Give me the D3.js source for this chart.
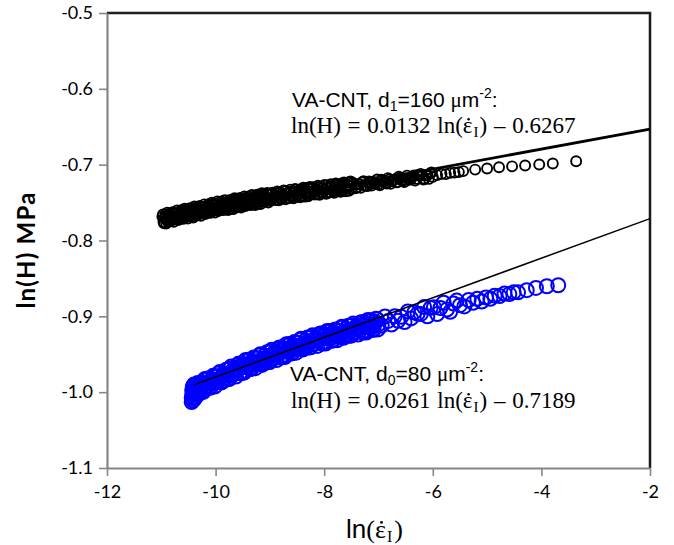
<!DOCTYPE html>
<html><head><meta charset="utf-8">
<script src="https://cdn.jsdelivr.net/npm/d3@7"></script>
<style>body{margin:0;background:#fff}svg{display:block}</style>
</head><body>
<svg id="c" width="674" height="545"></svg>
<script>
// ---- data ----
const xTicks = [-12, -10, -8, -6, -4, -2];
const yTicks = [-1.1, -1.0, -0.9, -0.8, -0.7, -0.6, -0.5];
const xTickLabels = ["-12", "-10", "-8", "-6", "-4", "-2"];
const yTickLabels = ["-1.1", "-1.0", "-0.9", "-0.8", "-0.7", "-0.6", "-0.5"];

// VA-CNT d1 = 160 um^-2 (black circles): ln(strain rate), ln(H)
const d1X = [
  -10.98,-10.96,-10.94,-10.92,-10.90,-10.88,-10.86,-10.84,-10.82,-10.80,-10.78,-10.76,-10.74,-10.72,-10.70,-10.68,-10.66,-10.64,-10.62,-10.60,
  -10.58,-10.56,-10.54,-10.52,-10.50,-10.48,-10.46,-10.44,-10.42,-10.40,-10.38,-10.36,-10.34,-10.32,-10.30,-10.28,-10.26,-10.24,-10.22,-10.20,
  -10.18,-10.16,-10.14,-10.12,-10.10,-10.08,-10.06,-10.04,-10.02,-10.00,
  -9.98,-9.96,-9.94,-9.92,-9.90,-9.88,-9.86,-9.84,-9.82,-9.80,-9.78,-9.76,-9.74,-9.72,-9.70,-9.68,-9.66,-9.64,-9.62,-9.60,
  -9.58,-9.56,-9.54,-9.52,-9.50,-9.48,-9.46,-9.44,-9.42,-9.40,-9.38,-9.36,-9.34,-9.32,-9.30,-9.28,-9.26,-9.24,-9.22,-9.20,
  -9.18,-9.16,-9.14,-9.12,-9.10,-9.08,-9.06,-9.04,-9.02,-9.00,
  -8.97,-8.94,-8.91,-8.88,-8.85,-8.82,-8.79,-8.76,-8.73,-8.70,-8.67,-8.64,-8.61,-8.58,-8.55,-8.52,-8.49,-8.46,-8.43,-8.40,
  -8.37,-8.34,-8.31,-8.28,-8.25,-8.22,-8.19,-8.16,-8.13,-8.10,-8.07,-8.04,-8.01,-7.98,-7.95,-7.92,-7.89,-7.86,-7.83,-7.80,
  -7.77,-7.74,-7.71,-7.68,-7.65,-7.62,-7.59,-7.56,-7.53,-7.50,
  -7.45,-7.40,-7.35,-7.30,-7.25,-7.20,-7.15,-7.10,-7.05,-7.00,-6.95,-6.90,-6.85,-6.80,-6.75,-6.70,-6.65,-6.60,-6.55,-6.50,
  -6.45,-6.40,-6.35,-6.30,-6.25,-6.20,-6.15,-6.10,-6.05,-6.00,
  -5.92,-5.84,-5.76,-5.68,-5.60,-5.52,-5.44,-5.22,-5.00,-4.78,-4.54,-4.30,-4.04,-3.79,-3.36];
const d1Y = [
  -0.7687,-0.7754,-0.7700,-0.7657,-0.7724,-0.7751,-0.7678,-0.7654,-0.7701,-0.7718,-0.7635,-0.7682,-0.7718,-0.7645,-0.7692,-0.7659,-0.7716,-0.7622,-0.7689,-0.7636,
  -0.7653,-0.7660,-0.7596,-0.7683,-0.7610,-0.7607,-0.7674,-0.7620,-0.7577,-0.7644,-0.7671,-0.7598,-0.7574,-0.7621,-0.7638,-0.7555,-0.7602,-0.7638,-0.7565,-0.7612,
  -0.7579,-0.7636,-0.7542,-0.7609,-0.7556,-0.7573,-0.7580,-0.7516,-0.7603,-0.7530,
  -0.7517,-0.7565,-0.7582,-0.7499,-0.7547,-0.7584,-0.7511,-0.7558,-0.7526,-0.7583,-0.7490,-0.7558,-0.7505,-0.7522,-0.7530,-0.7467,-0.7554,-0.7481,-0.7479,-0.7546,
  -0.7493,-0.7451,-0.7518,-0.7545,-0.7473,-0.7450,-0.7497,-0.7514,-0.7432,-0.7479,-0.7516,-0.7444,-0.7491,-0.7458,-0.7516,-0.7423,-0.7490,-0.7437,-0.7455,-0.7462,
  -0.7399,-0.7487,-0.7414,-0.7411,-0.7479,-0.7426,-0.7383,-0.7450,-0.7478,-0.7405,
  -0.7392,-0.7439,-0.7406,-0.7463,-0.7371,-0.7438,-0.7385,-0.7402,-0.7409,-0.7346,-0.7433,-0.7360,-0.7357,-0.7424,-0.7371,-0.7329,-0.7396,-0.7423,-0.7350,-0.7327,
  -0.7374,-0.7391,-0.7308,-0.7355,-0.7392,-0.7319,-0.7366,-0.7334,-0.7391,-0.7298,-0.7365,-0.7312,-0.7329,-0.7336,-0.7273,-0.7360,-0.7287,-0.7284,-0.7352,-0.7299,
  -0.7256,-0.7323,-0.7350,-0.7277,-0.7254,-0.7301,-0.7318,-0.7235,-0.7282,-0.7320,
  -0.7255,-0.7301,-0.7256,-0.7231,-0.7277,-0.7282,-0.7238,-0.7223,-0.7248,-0.7254,-0.7199,-0.7224,-0.7250,-0.7195,-0.7220,-0.7196,-0.7231,-0.7176,-0.7212,-0.7177,
  -0.7182,-0.7188,-0.7143,-0.7188,-0.7144,-0.7139,-0.7185,-0.7140,-0.7115,-0.7161,
  -0.7138,-0.7122,-0.7125,-0.7108,-0.7105,-0.7098,-0.7085,-0.7065,-0.7050,-0.7035,-0.7022,-0.7010,-0.6998,-0.6985,-0.6955];
// further readings of the same (dense) series
const d1bX = [
  -10.97,-10.95,-10.93,-10.91,-10.89,-10.87,-10.85,-10.83,-10.81,-10.79,-10.77,-10.75,-10.73,-10.71,-10.69,-10.67,-10.65,-10.63,-10.61,-10.59,
  -10.57,-10.55,-10.53,-10.51,-10.49,-10.47,-10.45,-10.43,-10.41,-10.39,-10.37,-10.35,-10.33,-10.31,-10.29,-10.27,-10.25,-10.23,-10.21,-10.19,
  -10.17,-10.15,-10.13,-10.11,-10.09,-10.07,-10.05,-10.03,-10.01,
  -9.99,-9.97,-9.95,-9.93,-9.91,-9.89,-9.87,-9.85,-9.83,-9.81,-9.79,-9.77,-9.75,-9.73,-9.71,-9.69,-9.67,-9.65,-9.63,-9.61,
  -9.59,-9.57,-9.55,-9.53,-9.51,-9.49,-9.47,-9.45,-9.43,-9.41,-9.39,-9.37,-9.35,-9.33,-9.31,-9.29,-9.27,-9.25,-9.23,-9.21,
  -9.19,-9.17,-9.15,-9.13,-9.11,-9.09,-9.07,-9.05,-9.03,-9.01,
  -8.985,-8.955,-8.925,-8.895,-8.865,-8.835,-8.805,-8.775,-8.745,-8.715,-8.685,-8.655,-8.625,-8.595,-8.565,-8.535,-8.505,-8.475,-8.445,-8.415,
  -8.385,-8.355,-8.325,-8.295,-8.265,-8.235,-8.205,-8.175,-8.145,-8.115,-8.085,-8.055,-8.025,-7.995,-7.965,-7.935,-7.905,-7.875,-7.845,-7.815,
  -7.785,-7.755,-7.725,-7.695,-7.665,-7.635,-7.605,-7.575,-7.545,-7.515,
  -7.475,-7.425,-7.375,-7.325,-7.275,-7.225,-7.175,-7.125,-7.075,-7.025,-6.975,-6.925,-6.875,-6.825,-6.775,-6.725,-6.675,-6.625,-6.575,-6.525,
  -6.475,-6.425,-6.375,-6.325,-6.275,-6.225,-6.175,-6.125,-6.075,-6.025];
const d1bY = [
  -0.7655,-0.7772,-0.7689,-0.7776,-0.7632,-0.7729,-0.7646,-0.7743,-0.7690,-0.7626,-0.7753,-0.7640,-0.7717,-0.7604,-0.7730,-0.7657,-0.7714,-0.7601,-0.7678,-0.7714,
  -0.7581,-0.7688,-0.7615,-0.7712,-0.7588,-0.7575,-0.7692,-0.7609,-0.7696,-0.7552,-0.7649,-0.7566,-0.7663,-0.7610,-0.7546,-0.7673,-0.7560,-0.7637,-0.7524,-0.7650,
  -0.7577,-0.7634,-0.7521,-0.7598,-0.7634,-0.7501,-0.7608,-0.7535,-0.7632,
  -0.7599,-0.7486,-0.7613,-0.7541,-0.7598,-0.7485,-0.7563,-0.7600,-0.7467,-0.7574,-0.7502,-0.7599,-0.7476,-0.7464,-0.7581,-0.7498,-0.7586,-0.7443,-0.7540,-0.7457,
  -0.7555,-0.7502,-0.7439,-0.7567,-0.7454,-0.7531,-0.7419,-0.7546,-0.7473,-0.7530,-0.7418,-0.7495,-0.7532,-0.7400,-0.7507,-0.7434,-0.7532,-0.7409,-0.7396,-0.7513,
  -0.7431,-0.7518,-0.7375,-0.7473,-0.7390,-0.7487,-0.7435,-0.7372,-0.7499,-0.7386,
  -0.7454,-0.7371,-0.7468,-0.7415,-0.7352,-0.7469,-0.7366,-0.7443,-0.7340,-0.7457,-0.7384,-0.7442,-0.7329,-0.7406,-0.7443,-0.7320,-0.7417,-0.7344,-0.7431,-0.7318,
  -0.7305,-0.7422,-0.7340,-0.7417,-0.7294,-0.7381,-0.7298,-0.7395,-0.7342,-0.7279,-0.7396,-0.7293,-0.7370,-0.7268,-0.7385,-0.7312,-0.7369,-0.7256,-0.7333,-0.7370,
  -0.7247,-0.7344,-0.7271,-0.7358,-0.7246,-0.7233,-0.7350,-0.7267,-0.7344,-0.7221,
  -0.7238,-0.7313,-0.7258,-0.7304,-0.7219,-0.7275,-0.7220,-0.7275,-0.7241,-0.7196,-0.7271,-0.7207,-0.7242,-0.7177,-0.7253,-0.7198,-0.7233,-0.7159,-0.7204,-0.7229,
  -0.7145,-0.7200,-0.7155,-0.7211,-0.7136,-0.7122,-0.7197,-0.7142,-0.7188,-0.7103];

// VA-CNT d0 = 80 um^-2 (blue circles)
const d0X = [
  -10.44,-10.44,-10.43,-10.43,-10.42,-10.42,-10.41,-10.41,-10.40,-10.40,-10.39,-10.38,-10.38,-10.37,-10.36,-10.35,-10.34,-10.33,-10.32,-10.31,
  -10.30,-10.29,-10.28,-10.27,
  -10.24,-10.21,-10.18,-10.15,-10.12,-10.09,-10.06,-10.03,-10.00,-9.97,-9.94,-9.91,-9.88,-9.85,-9.82,-9.79,-9.76,-9.73,-9.70,-9.67,
  -9.64,-9.61,-9.58,-9.55,-9.52,-9.49,-9.46,-9.43,-9.40,-9.37,-9.34,-9.31,-9.28,-9.25,-9.22,-9.19,-9.16,-9.13,-9.10,-9.07,
  -9.04,-9.01,-8.98,-8.95,-8.92,-8.89,-8.86,-8.83,-8.80,-8.77,-8.74,-8.71,-8.68,-8.65,-8.62,-8.59,-8.56,-8.53,-8.50,-8.47,
  -8.44,-8.41,-8.38,-8.35,-8.32,-8.29,-8.26,-8.23,-8.20,-8.17,-8.14,-8.11,-8.08,-8.05,-8.02,-7.99,-7.96,-7.93,-7.90,-7.87,
  -7.84,-7.81,-7.78,-7.75,-7.72,-7.69,-7.66,-7.63,-7.60,-7.57,-7.54,-7.51,-7.48,-7.45,-7.42,-7.39,-7.36,-7.33,-7.30,-7.27,
  -7.24,-7.21,-7.18,-7.15,-7.12,-7.09,-7.06,-7.03,-7.00,
  -6.94,-6.88,-6.82,-6.76,-6.70,-6.64,-6.58,-6.52,-6.46,-6.40,-6.34,-6.28,-6.22,-6.16,-6.10,-6.04,-5.98,-5.92,-5.86,-5.80,
  -5.74,-5.68,-5.62,-5.56,-5.50,
  -5.42,-5.34,-5.26,-5.18,-5.10,-5.02,-4.94,-4.86,-4.77,-4.68,-4.59,-4.51,-4.43,-4.27,-4.10,-3.90,-3.69];
const d0Y = [
  -1.013,-1.008,-1.003,-0.998,-0.993,-1.011,-1.006,-1.000,-0.995,-0.990,-1.009,-1.003,-0.997,-0.991,-1.006,-1.000,-0.994,-0.988,-1.003,-0.997,
  -0.991,-0.999,-0.993,-0.987,
  -0.9882,-0.9971,-0.9891,-0.9821,-0.9911,-0.9941,-0.9830,-0.9790,-0.9850,-0.9870,-0.9750,-0.9809,-0.9859,-0.9749,-0.9809,-0.9759,-0.9828,-0.9688,-0.9778,-0.9698,
  -0.9718,-0.9717,-0.9627,-0.9747,-0.9637,-0.9627,-0.9719,-0.9640,-0.9572,-0.9664,-0.9695,-0.9587,-0.9548,-0.9610,-0.9632,-0.9513,-0.9575,-0.9626,-0.9518,-0.9580,
  -0.9531,-0.9603,-0.9465,-0.9557,-0.9478,-0.9500,-0.9502,-0.9414,-0.9536,-0.9428,-0.9420,-0.9512,-0.9434,-0.9366,-0.9457,-0.9489,-0.9381,-0.9343,-0.9405,-0.9427,
  -0.9309,-0.9373,-0.9426,-0.9320,-0.9383,-0.9336,-0.9410,-0.9273,-0.9367,-0.9290,-0.9313,-0.9317,-0.9230,-0.9354,-0.9247,-0.9241,-0.9335,-0.9259,-0.9193,-0.9287,
  -0.9321,-0.9215,-0.9179,-0.9243,-0.9267,-0.9151,-0.9215,-0.9269,-0.9163,-0.9227,-0.9181,-0.9255,-0.9119,-0.9214,-0.9138,-0.9163,-0.9167,-0.9082,-0.9207,-0.9101,
  -0.9096,-0.9190,-0.9115,-0.9050,-0.9144,-0.9179,-0.9073,-0.9038,-0.9103,
  -0.9122,-0.9001,-0.9060,-0.9109,-0.8999,-0.9058,-0.9007,-0.9076,-0.8936,-0.9027,-0.8947,-0.8967,-0.8968,-0.8878,-0.8999,-0.8889,-0.8879,-0.8970,-0.8890,-0.8821,
  -0.8911,-0.8941,-0.8832,-0.8792,-0.8853,
  -0.8869,-0.8785,-0.8822,-0.8768,-0.8805,-0.8751,-0.8769,-0.8727,-0.8733,-0.8700,-0.8706,-0.8684,-0.8684,-0.8655,-0.8625,-0.8603,-0.8590];
const d0bX = [
  -10.225,-10.195,-10.165,-10.135,-10.105,-10.075,-10.045,-10.015,-9.985,-9.955,-9.925,-9.895,-9.865,-9.835,-9.805,-9.775,-9.745,-9.715,-9.685,-9.655,
  -9.625,-9.595,-9.565,-9.535,-9.505,-9.475,-9.445,-9.415,-9.385,-9.355,-9.325,-9.295,-9.265,-9.235,-9.205,-9.175,-9.145,-9.115,-9.085,-9.055,
  -9.025,-8.995,-8.965,-8.935,-8.905,-8.875,-8.845,-8.815,-8.785,-8.755,-8.725,-8.695,-8.665,-8.635,-8.605,-8.575,-8.545,-8.515,-8.485,-8.455,
  -8.425,-8.395,-8.365,-8.335,-8.305,-8.275,-8.245,-8.215,-8.185,-8.155,-8.125,-8.095,-8.065,-8.035,-8.005,-7.975,-7.945,-7.915,-7.885,-7.855,
  -7.825,-7.795,-7.765,-7.735,-7.705,-7.675,-7.645,-7.615,-7.585,-7.555,-7.525,-7.495,-7.465,-7.435,-7.405,-7.375,-7.345,-7.315,-7.285,-7.255,
  -7.225,-7.195,-7.165,-7.135,-7.105,-7.075,-7.045,-7.015];
const d0bY = [
  -0.9997,-0.9826,-0.9926,-0.9826,-0.9936,-0.9866,-0.9785,-0.9925,-0.9795,-0.9865,-0.9735,-0.9874,-0.9784,-0.9844,-0.9704,-0.9784,-0.9823,-0.9663,-0.9773,-0.9693,
  -0.9793,-0.9642,-0.9622,-0.9752,-0.9652,-0.9743,-0.9575,-0.9676,-0.9578,-0.9689,-0.9621,-0.9543,-0.9684,-0.9556,-0.9627,-0.9499,-0.9641,-0.9552,-0.9614,-0.9475,
  -0.9557,-0.9599,-0.9441,-0.9553,-0.9474,-0.9576,-0.9428,-0.9410,-0.9542,-0.9444,-0.9536,-0.9368,-0.9470,-0.9372,-0.9483,-0.9415,-0.9337,-0.9479,-0.9351,-0.9423,
  -0.9296,-0.9439,-0.9353,-0.9416,-0.9280,-0.9363,-0.9406,-0.9250,-0.9363,-0.9287,-0.9390,-0.9243,-0.9227,-0.9360,-0.9264,-0.9358,-0.9192,-0.9296,-0.9200,-0.9314,
  -0.9248,-0.9172,-0.9316,-0.9190,-0.9264,-0.9138,-0.9282,-0.9196,-0.9260,-0.9124,-0.9208,-0.9252,-0.9096,-0.9211,-0.9135,-0.9240,-0.9095,-0.9079,-0.9214,-0.9118,
  -0.9213,-0.9048,-0.9152,-0.9057,-0.9171,-0.9106,-0.9031,-0.9175];

// fitted lines: ln(H) = a ln(rate) + b
const fitSlopes = [0.0132, 0.0261];
const fitIntercepts = [-0.6267, -0.7189];
const fitStartX = [-11.0, -10.4];
const fitEndX = [-2, -2];

// ---- chart ----
const svg = d3.select("#c");
const L = 107, R = 650, T = 13, B = 468;
const x = d3.scaleLinear().domain([-12, -2]).range([L, R]);
const y = d3.scaleLinear().domain([-1.1, -0.5]).range([B, T]);
const grey = "#868686";
const tickFont = "Lato, 'Open Sans', sans-serif";
const sans = "'Liberation Sans', Arial, sans-serif";
const serif = "'Liberation Serif', 'Times New Roman', serif";

// frame (top/right black)
svg.append("path").attr("d", `M${L},${T}H${R}V${B}`)
  .attr("fill", "none").attr("stroke", grey).attr("stroke-width", 3);
svg.append("path").attr("d", `M${L},${T}H${R}V${B}`)
  .attr("fill", "none").attr("stroke", "#000").attr("stroke-width", 1.6);

// axes
const yAxis = svg.append("g").attr("transform", `translate(${L},0)`)
  .call(d3.axisLeft(y).tickValues(yTicks).tickSize(8).tickSizeOuter(0)
    .tickFormat((d, i) => yTickLabels[i]).tickPadding(6));
const xAxis = svg.append("g").attr("transform", `translate(0,${B})`)
  .call(d3.axisBottom(x).tickValues(xTicks).tickSize(8).tickSizeOuter(0)
    .tickFormat((d, i) => xTickLabels[i]).tickPadding(9));
[yAxis, xAxis].forEach(g => {
  g.select(".domain").attr("stroke", grey).attr("stroke-width", 2.2);
  g.selectAll(".tick line").attr("stroke", grey).attr("stroke-width", 1.6);
  g.selectAll(".tick text").attr("fill", "#000").attr("font-family", tickFont).attr("font-size", 18);
});

// data
const zip = (xs, ys) => xs.map((v, i) => [v, ys[i]]);
const d1 = zip(d1X, d1Y).concat(zip(d1bX, d1bY));
const d0 = zip(d0X, d0Y).concat(zip(d0bX, d0bY));
svg.append("g").selectAll("circle").data(d1).join("circle")
  .attr("cx", d => x(d[0])).attr("cy", d => y(d[1])).attr("r", 5.0)
  .attr("fill", "none").attr("stroke", "#000").attr("stroke-width", 1.9);
svg.append("g").selectAll("circle").data(d0).join("circle")
  .attr("cx", d => x(d[0])).attr("cy", d => y(d[1])).attr("r", 7.0)
  .attr("fill", "none").attr("stroke", "#0000ff").attr("stroke-width", 2.0);

// fit lines
const lineWidths = [2.8, 1.5];
fitSlopes.forEach((a, i) => {
  const b = fitIntercepts[i];
  const pts = [fitStartX[i], fitEndX[i]].map(v => [x(v), y(a * v + b)]);
  svg.append("path").attr("d", d3.line()(pts))
    .attr("stroke", "#000").attr("stroke-width", lineWidths[i]).attr("fill", "none");
});

// dot over epsilon (rate symbol)
function dotOver(textNode, ch, fs) {
  const s = textNode.textContent;
  const idx = s.indexOf(ch);
  if (idx < 0) return;
  const p = textNode.getStartPositionOfChar(idx);
  const w = textNode.getSubStringLength(idx, 1);
  svg.append("circle").attr("cx", p.x + w * 0.6).attr("cy", p.y - fs * 0.6)
    .attr("r", Math.max(1.1, fs * 0.055)).attr("fill", "#000");
}

// annotations
function label(xp, yp, sub, val) {
  const t = svg.append("text").attr("x", xp).attr("y", yp)
    .attr("font-family", sans).attr("font-size", 21).attr("fill", "#000");
  t.append("tspan").text("VA-CNT, d");
  t.append("tspan").attr("font-size", 14).attr("dy", 4).text(sub);
  t.append("tspan").attr("dy", -4).text("=" + val + " ");
  t.append("tspan").attr("font-family", serif).text("\u03bc");
  t.append("tspan").text("m");
  t.append("tspan").attr("font-size", 14).attr("dy", -9).text("-2");
  t.append("tspan").attr("dy", 9).text(":");
}
function equation(xp, yp, a, b) {
  const fs = 23;
  const t = svg.append("text").attr("x", xp).attr("y", yp)
    .attr("font-family", serif).attr("font-size", fs).attr("fill", "#000")
    .attr("word-spacing", 1);
  t.append("tspan").text("ln(H) = " + a + " ln(\u03b5");
  t.append("tspan").attr("font-size", 15).attr("dy", 4).attr("dx", 1).text("I");
  t.append("tspan").attr("dy", -4).attr("dx", 1).text(") \u2013 " + b);
  dotOver(t.node(), "\u03b5", fs);
}
label(292, 107, "1", "160");
equation(291, 133, "0.0132", "0.6267");
label(290, 381, "0", "80");
equation(291, 408, "0.0261", "0.7189");

// axis titles
const xfs = 26;
const xt = svg.append("text").attr("x", (L + R) / 2 - 4).attr("y", 538).attr("text-anchor", "middle")
  .attr("font-size", xfs).attr("fill", "#000");
xt.append("tspan").attr("font-family", sans).text("ln");
xt.append("tspan").attr("font-family", serif).text("(\u03b5");
xt.append("tspan").attr("font-family", serif).attr("font-size", 16).attr("dy", 4).attr("dx", 1).text("I");
xt.append("tspan").attr("font-family", serif).attr("dy", -4).attr("dx", 2).text(")");
dotOver(xt.node(), "\u03b5", xfs);

svg.append("text").attr("transform", `translate(35,250) rotate(-90)`)
  .attr("text-anchor", "middle").attr("font-family", tickFont)
  .attr("font-weight", "bold").attr("font-size", 24).attr("letter-spacing", 1.2)
  .attr("fill", "#000").text("ln(H) MPa");
</script>
</body></html>
